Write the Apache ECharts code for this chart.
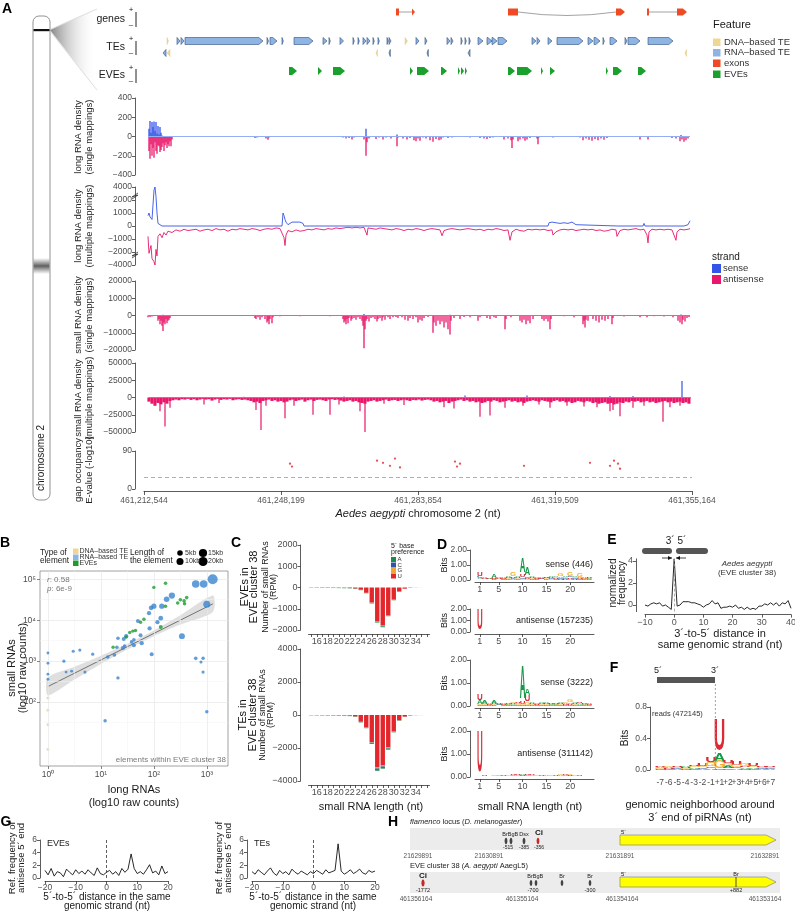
<!DOCTYPE html>
<html>
<head>
<meta charset="utf-8">
<script src="https://cdn.jsdelivr.net/npm/echarts@6.0.0/dist/echarts.min.js"></script>
<style>
html,body{margin:0;padding:0;background:#ffffff;}
#chart{width:795px;height:911px;}
</style>
</head>
<body>
<div id="chart"></div>
<script>
// ======================= DATA =======================
const GENOME_START = 461212544;
const GENOME_END = 461355164;
const WINDOW_UNITS = 548;                       // window positions (1 unit = 260.26 nt)
const UNIT_NT = (GENOME_END - GENOME_START) / WINDOW_UNITS;
const GENOMIC_TICK_STEP = 137;

// Panel A feature tracks: [start, end, kind] in window units
const GENE_EXONS = [[252,255,'box'],[268,271,'arrow'],[364,374,'box'],[472,481,'arrow'],[503,505,'box'],[533,543,'arrow']];
const GENE_INTRONS = [[255,268,0],[374,472,1],[505,533,0]];
const TE_PLUS = [[23,24.5,'DNA'],[33,36,'RNA'],[37,40,'RNA'],[41,119,'RNA'],[123,124.5,'RNA'],[126,133,'RNA'],[138,139,'RNA'],[150,169,'RNA'],[179,183,'RNA'],[185,186,'RNA'],[196,199.5,'RNA'],[209,210,'RNA'],[214,215,'RNA'],[219,222,'RNA'],[223,226,'RNA'],[229,230,'RNA'],[234,235,'RNA'],[243,244,'RNA'],[245,247,'RNA'],[261,263.5,'DNA'],[272,275,'RNA'],[281,283,'RNA'],[303,306,'RNA'],[307,309,'RNA'],[317,318,'RNA'],[321,322,'RNA'],[325,326,'RNA'],[334,339,'RNA'],[343,348,'RNA'],[348,353,'RNA'],[354,363,'RNA'],[388,392,'RNA'],[393,396,'RNA'],[404,408,'RNA'],[413,439,'RNA'],[444,449,'RNA'],[450,456,'RNA'],[459,460,'RNA'],[466,473,'RNA'],[481,483,'RNA'],[484,496,'RNA'],[504,529,'RNA']];
const TE_MINUS = [[19,22,'RNA'],[23,26,'DNA'],[232,233.5,'DNA'],[245,246,'RNA'],[283,284,'RNA'],[324,326,'RNA'],[541,542.5,'DNA']];
const EVE_LOCI = [[145,153],[174,178],[189,201],[266,269],[273,285],[297,303],[314,316],[317,320],[321,323],[364,371],[373,388],[397,399],[406,411],[462,464],[469,478],[494,502]];

// long RNA density, single mappings: [position, density]
const T1_SENSE = [[5,80],[6,160],[7,40],[8,150],[9,100],[10,155],[11,60],[12,150],[13,30],[14,110],[15,20],[16,100],[17,40],[18,10],[26,5],[222,80],[253,20],[537,15]];
const T1_ANTI = [[5,-150],[6,-230],[7,-80],[8,-200],[9,-120],[10,-220],[11,-60],[12,-150],[13,-180],[14,-90],[15,-100],[16,-160],[17,-140],[18,-110],[19,-70],[20,-150],[21,-90],[22,-60],[23,-120],[24,-80],[25,-100],[26,-50],[27,-100],[28,-30],[111,-15],[113,-10],[122,-20],[124,-35],[125,-10],[199,-10],[202,-20],[205,-15],[208,-30],[210,-10],[213,-5],[220,-30],[222,-200],[223,-60],[225,-20],[228,-5],[232,-25],[235,-10],[239,-30],[242,-10],[247,-20],[250,-5],[253,-100],[254,-10],[259,-20],[263,-30],[266,-15],[270,-40],[272,-50],[274,-20],[276,-45],[279,-10],[282,-20],[286,-40],[289,-55],[292,-25],[295,-40],[297,-30],[299,-10],[304,-15],[308,-10],[314,-5],[326,-10],[336,-15],[340,-20],[343,-25],[346,-15],[349,-10],[360,-30],[364,-20],[367,-40],[368,-120],[369,-30],[374,-50],[376,-30],[379,-20],[381,-45],[383,-30],[386,-15],[393,-20],[394,-80],[395,-10],[402,-5],[409,-10],[436,-10],[439,-40],[442,-20],[445,-35],[448,-45],[451,-25],[454,-40],[457,-20],[460,-35],[463,-15],[467,-5],[496,-30],[504,-30],[528,-15],[532,-20],[536,-50],[538,-30],[540,-55],[542,-40],[544,-20]];

// long RNA density, multiple mappings
const T2_SENSE = [[4,800],[5,1000],[6,700],[7,600],[8,500],[9,600],[10,3500],[11,4000],[12,2500],[13,1000],[14,200],[16,100],[18,0],[138,0],[139,1000],[140,800],[141,500],[142,300],[144,100],[146,200],[148,300],[150,250],[152,300],[154,350],[156,300],[158,400],[159,200],[160,0],[221,0],[222,100],[223,0],[306,0],[307,100],[308,0],[404,0],[405,250],[408,300],[412,250],[416,200],[420,250],[424,200],[428,300],[430,350],[432,100],[434,0],[474,0],[475,100],[476,0],[499,0],[500,200],[501,0],[540,0],[544,100],[546,400]];
const T2_ANTI = [[4,-800],[5,-2200],[6,-2500],[7,-1500],[8,-3000],[10,-3500],[11,-4000],[12,-1800],[13,-2600],[14,-800],[16,-600],[18,-900],[20,-500],[22,-700],[24,-400],[28,-500],[32,-300],[36,-400],[40,-250],[44,-350],[48,-300],[52,-250],[56,-400],[60,-300],[64,-250],[68,-350],[72,-200],[76,-300],[80,-250],[84,-400],[88,-250],[92,-300],[96,-200],[100,-250],[104,-300],[108,-200],[112,-250],[116,-350],[120,-250],[124,-200],[128,-250],[132,-150],[136,-200],[138,-250],[140,-900],[141,-1500],[142,-700],[144,-350],[148,-450],[152,-300],[156,-400],[160,-350],[164,-250],[168,-300],[172,-200],[176,-250],[180,-300],[184,-200],[188,-250],[192,-150],[196,-200],[200,-150],[204,-100],[208,-150],[212,-100],[216,-150],[220,-100],[222,-500],[223,-700],[224,-150],[228,-200],[232,-250],[236,-150],[240,-200],[244,-250],[248,-300],[252,-200],[256,-250],[260,-350],[264,-250],[268,-300],[272,-200],[276,-250],[280,-350],[284,-250],[288,-200],[292,-250],[296,-300],[298,-750],[300,-350],[304,-250],[308,-200],[312,-250],[316,-300],[320,-250],[324,-200],[328,-250],[332,-300],[336,-250],[340,-350],[344,-250],[348,-300],[352,-200],[356,-250],[360,-350],[364,-300],[366,-1100],[368,-450],[372,-250],[376,-350],[380,-400],[384,-250],[388,-300],[392,-250],[396,-300],[400,-250],[404,-350],[408,-300],[409,-700],[412,-450],[416,-300],[420,-250],[424,-300],[428,-250],[432,-350],[436,-300],[440,-250],[444,-300],[448,-250],[452,-350],[456,-300],[460,-400],[464,-350],[468,-250],[472,-300],[473,-800],[476,-350],[480,-250],[484,-300],[488,-250],[492,-200],[496,-300],[500,-250],[503,-700],[504,-1300],[505,-450],[508,-250],[512,-300],[516,-250],[520,-300],[524,-250],[528,-300],[532,-1100],[533,-450],[536,-250],[540,-300],[544,-250],[546,-200]];
const T2_TICK_LABELS = ['\u22124000','\u22122000','\u22121000','0','1000','2000','4000'];

// small RNA density, single mappings
const T3_SENSE = [[19,500],[220,800],[306,400],[537,600]];
const T3_ANTI = [[4,-1000],[6,-800],[8,-600],[14,-3000],[15,-2000],[16,-5000],[17,-3000],[18,-6000],[19,-9000],[20,-4000],[21,-5000],[22,-2000],[23,-4500],[24,-3000],[25,-2500],[26,-1500],[40,-300],[60,-200],[80,-300],[111,-1500],[112,-2000],[114,-1000],[116,-2500],[118,-1000],[121,-2000],[123,-4000],[124,-3000],[125,-5000],[126,-2000],[128,-4500],[129,-1000],[136,-500],[146,-300],[156,-400],[176,-300],[186,-500],[199,-2000],[200,-4000],[201,-3000],[202,-5000],[203,-2000],[204,-4500],[205,-1500],[207,-3000],[208,-2000],[210,-1500],[212,-2500],[214,-1000],[216,-2000],[218,-3000],[219,-6000],[220,-19000],[221,-8000],[222,-3000],[223,-2000],[225,-3500],[227,-1500],[229,-1000],[231,-2000],[233,-3500],[234,-2000],[236,-1500],[238,-3000],[239,-1000],[241,-2500],[244,-1000],[246,-2000],[249,-1000],[252,-800],[254,-1500],[258,-1000],[261,-2500],[264,-3000],[266,-1500],[269,-2000],[272,-1000],[274,-4000],[276,-2500],[278,-3000],[280,-1500],[284,-800],[289,-10000],[290,-4000],[292,-6000],[294,-3000],[296,-5000],[298,-3500],[300,-7000],[302,-4000],[304,-8000],[306,-11000],[307,-3000],[310,-1500],[316,-2000],[320,-800],[326,-1000],[334,-3000],[336,-1000],[343,-1500],[346,-2000],[350,-1000],[352,-1500],[361,-8000],[362,-2000],[367,-1000],[376,-3000],[378,-4000],[380,-2500],[382,-5000],[384,-3000],[386,-4500],[389,-2000],[398,-2000],[400,-3000],[402,-2000],[404,-3500],[406,-8000],[407,-2000],[420,-500],[430,-1000],[439,-5000],[440,-3000],[441,-7000],[442,-2500],[444,-3000],[449,-2000],[452,-3000],[455,-4000],[458,-2500],[461,-3000],[464,-2000],[468,-5000],[469,-1500],[480,-600],[496,-1000],[503,-1000],[510,-500],[520,-600],[529,-1000],[534,-3000],[536,-4000],[538,-5000],[539,-2500],[541,-3500],[543,-1500],[545,-800]];

// small RNA density, multiple mappings (background every 3 positions from position 4, plus peaks)
const T4_BASE_START = 4, T4_BASE_STEP = 3;
const T4_ANTI_BASE = [-6000,-9000,-12000,-8000,-10000,-7000,-9000,-5000,-4000,-3000,-4000,-2500,-3000,-2000,-3500,-2500,-4000,-3000,-2000,-3000,-2500,-4500,-3000,-2000,-3500,-2500,-3000,-2000,-4000,-3000,-2500,-3500,-3000,-4000,-5000,-7000,-6000,-8000,-5000,-4000,-3000,-5000,-4000,-6000,-5000,-7000,-6000,-4000,-3000,-5000,-4000,-3000,-6000,-4000,-3000,-5000,-3500,-3000,-4000,-5000,-3000,-2500,-3500,-3000,-4500,-6000,-5000,-4000,-6000,-5000,-7000,-8000,-9000,-6000,-5000,-4000,-6000,-5000,-4000,-3000,-5000,-4000,-3500,-5000,-4000,-3000,-4000,-5000,-3500,-4000,-3000,-4500,-3500,-3000,-4000,-6000,-5000,-7000,-6000,-5000,-8000,-6000,-5000,-4000,-3000,-5000,-4000,-6000,-5000,-7000,-6000,-8000,-7000,-5000,-6000,-4000,-5000,-7000,-6000,-5000,-4000,-6000,-5000,-7000,-6000,-8000,-6000,-5000,-4000,-5000,-6000,-4000,-5000,-6000,-7000,-5000,-4000,-6000,-5000,-7000,-6000,-8000,-7000,-5000,-6000,-7000,-5000,-6000,-8000,-7000,-9000,-8000,-7000,-9000,-8000,-10000,-9000,-7000,-8000,-6000,-7000,-5000,-6000,-5000,-7000,-6000,-5000,-7000,-6000,-8000,-7000,-6000,-5000,-7000,-6000,-8000,-7000,-6000,-8000,-7000,-9000];
const T4_ANTI_PEAKS = [[16,-20000],[21,-42000],[26,-15000],[60,-10000],[75,-8000],[112,-18000],[117,-47000],[122,-12000],[141,-30000],[150,-12000],[169,-25000],[186,-25000],[195,-10000],[216,-20000],[221,-50000],[240,-9000],[260,-11000],[300,-14000],[310,-16000],[336,-28000],[346,-26000],[361,-15000],[379,-12000],[395,-10000],[406,-15000],[423,-12000],[440,-13000],[453,-14000],[466,-20000],[469,-18000],[476,-27000],[489,-15000],[500,-12000],[519,-35000],[526,-14000],[536,-12000]];
const T4_SENSE = [[100,1000],[200,1500],[321,3000],[383,3000],[466,2000],[489,2000],[538,24000]];

// gap occupancy E-value (-log10)
const GAP_HITS = [[146,60],[148,53],[233,67],[239,62],[246,55],[251,72],[256,51],[311,65],[313,53],[316,60],[380,55],[446,62],[466,55],[470,67],[474,60],[476,48]];
const GAP_THRESHOLD = 27;

// Panel B: [long RNA raw counts, small RNA raw counts, element length (kb)]
const B_DNA_TE = [[1,316,0.4],[1,126,0.4],[1,63,0.3],[1,28,0.3],[1,7,0.3]];
const B_RNA_TE = [[1290,100000,25],[617,75900,12],[871,75900,12],[1000,24500,10],[339,4070,6],[219,39800,7],[174,32400,5],[141,21900,4],[135,11200,3],[100,21900,4],[89,20000,3],[81,14800,2],[117,8900,2],[83,6300,2],[50,9550,1.5],[56,4270,1.5],[59,2750,2],[30,4070,2],[21,3630,1],[27,3470,1.5],[42,3310,1],[38,2950,1],[42,2450,1.5],[28,2340,1],[26,2090,1.5],[20,2190,1],[18,1410,1],[13.5,1260,1],[91,1480,1.5],[7,1480,0.5],[4,1860,0.5],[3,1740,0.5],[2,1000,0.5],[1,1580,0.3],[1,890,0.3],[617,1170,1],[851,1170,0.8],[776,955,0.5],[1,480,0.3],[1,360,0.3],[2.2,540,0.3],[5,540,0.5],[21,390,0.8],[12,35,0.8],[850,540,0.5],[1000,58,0.8],[2.8,570,0.3]];
const B_EVE = [[166,79400,1],[100,63100,0.8],[166,21900,1],[316,31600,1],[372,29500,1],[417,35500,1],[380,25100,1],[282,26300,1],[65,10500,1],[56,8900,0.8],[40,5400,0.8],[45,5600,0.8],[35,5000,0.8],[30,3900,0.8],[135,6800,1.5],[17,2190,0.8]];
const B_FIT_LONG = [1, 1300], B_FIT_SMALL = [240, 25000];
const B_BAND_LONG = [1, 3, 10, 30, 100, 300, 1300];
const B_BAND_LO = [145, 339, 851, 1862, 4074, 7586, 15849];
const B_BAND_HI = [398, 708, 1349, 2570, 5623, 12589, 39811];
const B_SIZE_LEGEND = [5, 10, 15, 20];

// Panel C: small RNA length and RPM by 5' base
const C_LENGTHS = [15,16,17,18,19,20,21,22,23,24,25,26,27,28,29,30,31,32,33,34,35,36];
const C_EVE_U = [-4,-6,-6,-7,-8,-10,-14,-25,-50,-107,-250,-710,-1585,-1796,-1295,-572,-190,-56,-14,-5,-2,0];
const C_EVE_G = [-3,-4,-4,-4,-5,-5,-5,-5,-5,-5,-6,-12,-18,-20,-15,-8,-3,-1,0,0,0,0];
const C_EVE_C = [-3,-3,-4,-4,-4,-4,-4,-4,-4,-4,-4,-8,-12,-14,-10,-5,-2,-1,0,0,0,0];
const C_EVE_A = [-6,-7,-8,-8,-9,-10,-10,-10,-10,-10,-12,-20,-35,-40,-30,-15,-5,-2,-1,0,0,0];
const C_TE_U = [-6,-8,-9,-10,-12,-15,-20,-37,-91,-412,-745,-1640,-3185,-3065,-1970,-980,-323,-100,-26,-9,-4,0];
const C_TE_G = [-4,-5,-6,-6,-7,-8,-10,-10,-10,-10,-15,-30,-50,-50,-35,-18,-7,-3,-1,0,0,0];
const C_TE_C = [-3,-4,-4,-5,-5,-6,-6,-6,-6,-8,-10,-20,-35,-35,-25,-12,-5,-2,-1,0,0,0];
const C_TE_A = [-8,-10,-12,-12,-14,-15,-15,-15,-15,-20,-30,-60,-110,-100,-70,-40,-15,-5,-2,-1,0,0];

// Panel D: sequence logos, bits per position 1..24 as [A, C, G, U]
const D_POSITIONS = [1,2,3,4,5,6,7,8,9,10,11,12,13,14,15,16,17,18,19,20,21,22,23,24];
const D_EVE_SENSE = [[0.05,0.18,0.03,0.22],[0.07,0.03,0.03,0.05],[0.05,0.03,0.02,0.04],[0.22,0.04,0.04,0.05],[0.06,0.03,0.03,0.05],[0.08,0.04,0.05,0.06],[0.1,0.05,0.08,0.08],[0.06,0.08,0.3,0.12],[0.08,0.05,0.05,0.06],[1.0,0.12,0.08,0.2],[0.5,0.12,0.06,0.08],[0.1,0.05,0.05,0.06],[0.06,0.04,0.04,0.05],[0.05,0.04,0.03,0.04],[0.08,0.05,0.05,0.05],[0.1,0.06,0.05,0.06],[0.08,0.05,0.06,0.05],[0.1,0.08,0.2,0.05],[0.12,0.06,0.08,0.05],[0.08,0.1,0.3,0.08],[0.1,0.06,0.06,0.05],[0.08,0.05,0.22,0.06],[0.06,0.04,0.05,0.04],[0.05,0.04,0.04,0.05]];
const D_EVE_ANTI = [[0.01,0.01,0.01,1.85],[0.01,0.01,0.01,0.02],[0.01,0.01,0.01,0.01],[0.01,0.01,0.01,0.02],[0.02,0.01,0.01,0.01],[0.01,0.01,0.01,0.02],[0.01,0.01,0.02,0.01],[0.02,0.01,0.01,0.02],[0.01,0.01,0.01,0.02],[0.02,0.01,0.01,0.01],[0.01,0.01,0.01,0.02],[0.01,0.01,0.01,0.01],[0.02,0.01,0.01,0.01],[0.01,0.01,0.01,0.02],[0.01,0.01,0.02,0.01],[0.01,0.01,0.01,0.02],[0.02,0.01,0.01,0.01],[0.01,0.01,0.01,0.02],[0.01,0.01,0.02,0.02],[0.02,0.01,0.01,0.02],[0.01,0.01,0.02,0.01],[0.01,0.01,0.01,0.02],[0.02,0.01,0.01,0.01],[0.01,0.01,0.01,0.01]];
const D_TE_SENSE = [[0.15,0.03,0.03,0.28],[0.12,0.03,0.03,0.05],[0.05,0.03,0.03,0.04],[0.1,0.03,0.03,0.05],[0.04,0.03,0.02,0.04],[0.05,0.03,0.03,0.04],[0.04,0.03,0.03,0.05],[0.05,0.04,0.06,0.05],[0.06,0.04,0.04,0.06],[1.45,0.04,0.04,0.1],[0.3,0.05,0.12,0.28],[0.06,0.04,0.04,0.05],[0.05,0.03,0.03,0.04],[0.06,0.04,0.04,0.05],[0.05,0.03,0.04,0.04],[0.04,0.03,0.03,0.04],[0.04,0.03,0.03,0.04],[0.05,0.03,0.04,0.04],[0.05,0.04,0.06,0.04],[0.06,0.05,0.1,0.05],[0.05,0.04,0.04,0.04],[0.04,0.03,0.04,0.04],[0.04,0.03,0.03,0.04],[0.04,0.03,0.03,0.03]];
const D_TE_ANTI = [[0.02,0.01,0.02,1.8],[0.02,0.02,0.02,0.03],[0.02,0.02,0.02,0.02],[0.02,0.02,0.03,0.02],[0.03,0.02,0.02,0.02],[0.02,0.02,0.02,0.03],[0.02,0.02,0.03,0.02],[0.03,0.02,0.03,0.03],[0.03,0.02,0.02,0.04],[0.04,0.02,0.03,0.03],[0.03,0.02,0.03,0.04],[0.03,0.02,0.02,0.03],[0.02,0.02,0.03,0.02],[0.02,0.02,0.02,0.03],[0.03,0.02,0.02,0.02],[0.02,0.02,0.03,0.02],[0.02,0.02,0.02,0.03],[0.03,0.02,0.03,0.02],[0.03,0.02,0.03,0.03],[0.03,0.02,0.04,0.03],[0.02,0.02,0.03,0.02],[0.02,0.02,0.02,0.03],[0.02,0.02,0.02,0.02],[0.02,0.01,0.02,0.02]];
const D_LABELS = ['sense (446)','antisense (157235)','sense (3222)','antisense (311142)'];

// Panel E: 3'-to-5' distance
const E_DIST = [-10,-9,-8,-7,-6,-5,-4,-3,-2,-1,0,1,2,3,4,5,6,7,8,9,10,11,12,13,14,15,16,17,18,19,20,21,22,23,24,25,26,27,28,29,30,31,32,33,34,35,36,37,38,39,40];
const E_FREQ = [0.0,-0.1,0.1,0.2,0.1,0.2,-0.1,0.0,-0.2,-0.4,4.2,-0.1,0.0,0.3,0.3,0.3,0.2,0.2,0.1,0.0,-0.2,0.0,0.1,0.4,0.1,0.2,-0.3,-0.2,-0.2,-0.1,-0.2,0.0,-0.3,-0.2,-0.4,-0.2,-0.4,-0.3,-0.4,-0.1,-0.1,0.1,0.0,0.2,0.0,0.2,-0.1,0.2,0.1,0.4,-0.3];

// Panel F: logo around 3' end, [A, C, G, U]
const F_POSITIONS = ['-7','-6','-5','-4','-3','-2','-1','+1','+2','+3','+4','+5','+6','+7'];
const F_LOGO = [[0.02,0.01,0.01,0.02],[0.02,0.01,0.02,0.01],[0.01,0.01,0.02,0.02],[0.02,0.01,0.01,0.01],[0.02,0.01,0.02,0.02],[0.01,0.02,0.02,0.03],[0.02,0.02,0.05,0.06],[0.1,0.01,0.095,0.4],[0.03,0.02,0.03,0.03],[0.02,0.02,0.02,0.05],[0.02,0.01,0.03,0.02],[0.02,0.01,0.02,0.03],[0.01,0.01,0.02,0.02],[0.01,0.01,0.01,0.02]];

// Panel G: 5'-to-5' distance
const G_DIST = [-20,-19,-18,-17,-16,-15,-14,-13,-12,-11,-10,-9,-8,-7,-6,-5,-4,-3,-2,-1,0,1,2,3,4,5,6,7,8,9,10,11,12,13,14,15,16,17,18,19,20];
const G_EVE = [1.2,0.5,1.5,0.3,1.0,0.8,0.2,1.4,0.9,0.5,1.3,0.7,1.1,0.6,1.3,0.8,0.4,1.6,0.7,0.5,0.9,1.2,0.6,1.0,0.4,1.5,0.9,1.4,3.8,1.5,0.7,1.0,0.6,1.3,2.1,0.8,1.1,0.5,1.9,0.7,1.0];
const G_TE = [1.0,0.6,1.3,0.9,0.5,1.1,1.6,0.8,0.4,1.2,0.7,1.0,0.5,1.4,0.9,0.6,1.1,0.8,0.5,1.0,0.7,1.2,0.9,0.6,1.3,0.8,1.0,1.2,5.4,1.1,0.6,0.9,1.3,0.7,1.0,1.4,0.8,0.6,1.2,0.9,1.1];

// ======================= STYLE / HELPERS =======================
const FONT = '"Liberation Sans", Arial, Helvetica, sans-serif';
const SENSE_C = '#3454E8', ANTI_C = '#E8176A';
const LETTERS = ['A','C','G','U'];
const LETTER_COLORS = ['#16994A','#2A5BA6','#F5AE2C','#DB2B36'];
const BASE_COLORS = {A:'#1C8B45', C:'#2D55A6', G:'#F2A534', U:'#E3262B'};
const MINUS = '\u2212';
const fmtMinus = v => (v < 0 ? MINUS : '') + Math.abs(v);
const SUP = ['\u2070','\u00B9','\u00B2','\u00B3','\u2074','\u2075'];

function merge(a, b) {
  const o = Object.assign({}, a);
  for (const k in b) {
    const bv = b[k], av = a ? a[k] : undefined;
    if (bv && typeof bv === 'object' && !Array.isArray(bv) && typeof bv !== 'function' && av && typeof av === 'object' && !Array.isArray(av)) o[k] = merge(av, bv);
    else o[k] = bv;
  }
  return o;
}
const AXIS = {
  axisLine: {show: true, onZero: false, lineStyle: {color: '#333', width: 0.8}},
  axisTick: {show: true, length: 3, lineStyle: {color: '#333', width: 0.8}},
  axisLabel: {fontSize: 9, color: '#4d4d4d', fontFamily: FONT, margin: 3},
  splitLine: {show: false}
};
const option = {animation: false, backgroundColor: '#ffffff', textStyle: {fontFamily: FONT}, grid: [], xAxis: [], yAxis: [], series: [], graphic: []};
function addGrid(g) { option.grid.push(Object.assign({containLabel: false, outerBoundsMode: 'none'}, g)); return option.grid.length - 1; }
function addX(a) { option.xAxis.push(a); return option.xAxis.length - 1; }
function addY(a) { option.yAxis.push(a); return option.yAxis.length - 1; }
const G = option.graphic;
function T(x, y, text, o) {
  o = o || {};
  const size = o.size || 10;
  const font = (o.italic ? 'italic ' : '') + (o.bold ? 'bold ' : '') + size + 'px ' + FONT;
  const st = {text: text, font: font, fill: o.color || '#1a1a1a', align: o.align || 'left', verticalAlign: o.valign || 'middle', textAlign: o.align || 'left', textVerticalAlign: o.valign || 'middle'};
  if (o.lineHeight) st.lineHeight = o.lineHeight;
  if (o.rich) st.rich = o.rich;
  G.push({type: 'text', x: x, y: y, rotation: o.rot || 0, z: 50, silent: true, style: st});
}
function R(x, y, w, h, fill, extra) { G.push(Object.assign({type: 'rect', silent: true, z: 5, shape: {x: x, y: y, width: w, height: h, r: (extra && extra.r) || 0}, style: Object.assign({fill: fill}, (extra && extra.style) || {})})); }
function L(x1, y1, x2, y2, stroke, w, dash) { G.push({type: 'line', silent: true, z: 6, shape: {x1: x1, y1: y1, x2: x2, y2: y2}, style: {stroke: stroke, lineWidth: w || 0.8, lineDash: dash || null}}); }
function P(points, fill, stroke, lw) { G.push({type: 'polygon', silent: true, z: 6, shape: {points: points}, style: {fill: fill, stroke: stroke || null, lineWidth: lw || 0}}); }
const ROT = Math.PI / 2;

// ======================= PANEL A : feature tracks =======================
const ROW = {gene: 12, tePlus: 41, teMinus: 53, eve: 71};
const gTr = addGrid({left: 144, top: 0, width: 548, height: 85});
const xTr = addX({gridIndex: gTr, type: 'value', min: 0, max: WINDOW_UNITS, show: false});
const yTr = addY({gridIndex: gTr, type: 'value', min: 0, max: 85, inverse: true, show: false});
const FEATURES = [];
GENE_EXONS.forEach(e => FEATURES.push([e[0], e[1], ROW.gene, 1, e[2] === 'box' ? 'exonBox' : 'exon']));
TE_PLUS.forEach(e => FEATURES.push([e[0], e[1], ROW.tePlus, 1, e[2]]));
TE_MINUS.forEach(e => FEATURES.push([e[0], e[1], ROW.teMinus, -1, e[2]]));
EVE_LOCI.forEach(e => FEATURES.push([e[0], e[1], ROW.eve, 1, 'EVE']));
option.series.push({
  type: 'custom', xAxisIndex: xTr, yAxisIndex: yTr, z: 3,
  data: GENE_INTRONS.map(d => [d[0], d[1], ROW.gene]), encode: {x: [0, 1], y: 2},
  renderItem: function (params, api) {
    const d = GENE_INTRONS[params.dataIndex];
    const a = api.coord([d[0], ROW.gene]), b = api.coord([d[1], ROW.gene]);
    if (d[2]) return {type: 'bezierCurve', shape: {x1: a[0], y1: a[1], x2: b[0], y2: b[1], cpx1: (a[0] + b[0]) / 2, cpy1: a[1] + 7}, style: {stroke: '#8a8a8a', lineWidth: 0.8, fill: 'none'}};
    return {type: 'line', shape: {x1: a[0], y1: a[1], x2: b[0], y2: b[1]}, style: {stroke: '#8a8a8a', lineWidth: 0.8}};
  }
});
option.series.push({
  type: 'custom', xAxisIndex: xTr, yAxisIndex: yTr, z: 4,
  data: FEATURES.map(f => [f[0], f[1], f[2]]), encode: {x: [0, 1], y: 2},
  renderItem: function (params, api) {
    const f = FEATURES[params.dataIndex];
    const a = api.coord([f[0], f[2]]), b = api.coord([f[1], f[2]]);
    const Lx = a[0], Rx = Math.max(b[0], a[0] + 1.3), cy = a[1];
    const kind = f[4];
    const h = kind === 'EVE' ? 8 : 7, hh = h / 2;
    let style;
    if (kind === 'RNA') style = {fill: '#8DB4E2', stroke: '#2E4C7C', lineWidth: 0.6};
    else if (kind === 'DNA') style = {fill: '#EFD791', stroke: '#DCC277', lineWidth: 0.4};
    else if (kind === 'EVE') style = {fill: '#19A02D'};
    else style = {fill: '#EF4A23'};
    if (kind === 'exonBox') return {type: 'rect', shape: {x: Lx, y: cy - hh, width: Rx - Lx, height: h}, style: style};
    const tip = Math.min(h * 0.6, Rx - Lx);
    const pts = f[3] >= 0 ? [[Lx, cy - hh], [Rx - tip, cy - hh], [Rx, cy], [Rx - tip, cy + hh], [Lx, cy + hh]]
                          : [[Rx, cy - hh], [Lx + tip, cy - hh], [Lx, cy], [Lx + tip, cy + hh], [Rx, cy + hh]];
    return {type: 'polygon', shape: {points: pts}, style: style};
  }
});

// ======================= PANEL A : density tracks =======================
function track(top, height, ymin, ymax, interval, fmt) {
  const gi = addGrid({left: 144, top: top, width: 548, height: height});
  const xi = addX({gridIndex: gi, type: 'value', min: 0, max: WINDOW_UNITS, show: false});
  const yi = addY(merge(AXIS, {gridIndex: gi, type: 'value', min: ymin, max: ymax, interval: interval, offset: 9, axisLabel: {formatter: fmt, fontSize: 8.5}}));
  return {gi: gi, xi: xi, yi: yi};
}
function baseline(color) {
  return {silent: true, symbol: ['none', 'none'], label: {show: false}, lineStyle: {color: color, width: 1, type: 'solid'}, data: [[{coord: [4, 0]}, {coord: [546, 0]}]]};
}
function bars(t, data, color, w, extra) {
  option.series.push(Object.assign({type: 'bar', xAxisIndex: t.xi, yAxisIndex: t.yi, data: data, barWidth: w, barGap: '-100%', itemStyle: {color: color}, silent: true}, extra || {}));
}
// track 1
const t1 = track(98, 77, -400, 400, 200, fmtMinus);
bars(t1, T1_ANTI, ANTI_C, 1.3, {markLine: baseline('#93AEF5')});
bars(t1, T1_SENSE, SENSE_C, 1.3);
// track 2 (broken axis: 0..2000 linear, 2000..4000 compressed)
const brk = v => Math.abs(v) <= 2000 ? v / 1000 : Math.sign(v) * (2 + (Math.abs(v) - 2000) / 2000);
const t2 = track(187, 78, -3, 3, 1, v => T2_TICK_LABELS[Math.round(v) + 3]);
option.series.push({type: 'line', xAxisIndex: t2.xi, yAxisIndex: t2.yi, data: T2_ANTI.map(d => [d[0], brk(d[1])]), showSymbol: false, silent: true, lineStyle: {color: ANTI_C, width: 0.9}, z: 2});
option.series.push({type: 'line', xAxisIndex: t2.xi, yAxisIndex: t2.yi, data: T2_SENSE.map(d => [d[0], brk(d[1])]), showSymbol: false, silent: true, lineStyle: {color: SENSE_C, width: 0.9}, z: 3});
// track 3
const t3 = track(281, 69, -20000, 20000, 10000, fmtMinus);
bars(t3, T3_ANTI, ANTI_C, 1.3, {markLine: baseline('#EE5C93')});
bars(t3, T3_SENSE, SENSE_C, 1.3);
// track 4
const t4 = track(363, 69, -50000, 50000, 25000, fmtMinus);
bars(t4, T4_ANTI_BASE.map((v, i) => [T4_BASE_START + i * T4_BASE_STEP, v]), ANTI_C, 3.1, {markLine: baseline('#EE5C93')});
bars(t4, T4_ANTI_PEAKS, ANTI_C, 1.2);
bars(t4, T4_SENSE, SENSE_C, 1.2);
// track 5 (gap occupancy) + genomic axis
const g5 = addGrid({left: 144, top: 451, width: 548, height: 38});
const x5 = addX(merge(AXIS, {gridIndex: g5, type: 'value', min: 0, max: WINDOW_UNITS, interval: GENOMIC_TICK_STEP, offset: 2,
  axisTick: {length: 4}, axisLabel: {fontSize: 8.5, color: '#555', margin: 5, formatter: v => (GENOME_START + Math.round(v * UNIT_NT)).toLocaleString('en-US')}}));
const y5 = addY(merge(AXIS, {gridIndex: g5, type: 'value', min: 0, max: 90, interval: 90, offset: 9, axisLabel: {fontSize: 8.5}}));
option.series.push({type: 'scatter', xAxisIndex: x5, yAxisIndex: y5, data: GAP_HITS, symbolSize: 2.3, itemStyle: {color: '#E3242B'}, silent: true,
  markLine: {silent: true, symbol: ['none', 'none'], label: {show: false}, lineStyle: {color: '#9a9a9a', width: 0.8, type: [4, 3]}, data: [{yAxis: GAP_THRESHOLD}]}});

// ======================= PANEL B =======================
const gB = addGrid({left: 40, top: 571, width: 188, height: 195, show: true, borderColor: '#8c8c8c', borderWidth: 0.8, backgroundColor: '#ffffff'});
const xB = addX(merge(AXIS, {gridIndex: gB, type: 'value', min: -0.15, max: 3.4, axisLine: {show: false},
  axisTick: {customValues: [0, 1, 2, 3], lineStyle: {color: '#666'}}, axisLabel: {customValues: [0, 1, 2, 3], formatter: v => '10' + SUP[v], fontSize: 8.5, margin: 4}}));
const yB = addY(merge(AXIS, {gridIndex: gB, type: 'value', min: 0.44, max: 5.2, axisLine: {show: false},
  axisTick: {customValues: [2, 3, 4, 5], lineStyle: {color: '#666'}}, axisLabel: {customValues: [2, 3, 4, 5], formatter: v => '10' + SUP[v], fontSize: 8.5, margin: 4}}));
const gridLinesB = [];
[0, 1, 2, 3].forEach(v => gridLinesB.push({xAxis: v, lineStyle: {color: '#e6e6e6', width: 0.7, type: 'solid'}}));
[0.5, 1.5, 2.5].forEach(v => gridLinesB.push({xAxis: v, lineStyle: {color: '#f2f2f2', width: 0.5, type: 'solid'}}));
[2, 3, 4, 5].forEach(v => gridLinesB.push({yAxis: v, lineStyle: {color: '#e6e6e6', width: 0.7, type: 'solid'}}));
[1.5, 2.5, 3.5, 4.5].forEach(v => gridLinesB.push({yAxis: v, lineStyle: {color: '#f2f2f2', width: 0.5, type: 'solid'}}));
option.series.push({type: 'scatter', xAxisIndex: xB, yAxisIndex: yB, data: [[0, 3]], symbolSize: 0, silent: true, z: 1,
  markLine: {silent: true, symbol: ['none', 'none'], label: {show: false}, data: gridLinesB}});
option.series.push({type: 'custom', xAxisIndex: xB, yAxisIndex: yB, data: [[0, 3]], z: 2, silent: true,
  renderItem: function (params, api) {
    const up = B_BAND_LONG.map((x, i) => api.coord([Math.log10(x), Math.log10(B_BAND_HI[i])]));
    const lo = B_BAND_LONG.map((x, i) => api.coord([Math.log10(x), Math.log10(B_BAND_LO[i])])).reverse();
    return {type: 'polygon', shape: {points: up.concat(lo), smooth: 0.25}, style: {fill: 'rgba(150,150,150,0.3)'}};
  }});
option.series.push({type: 'line', xAxisIndex: xB, yAxisIndex: yB, z: 3, silent: true, showSymbol: false,
  data: B_FIT_LONG.map((x, i) => [Math.log10(x), Math.log10(B_FIT_SMALL[i])]), lineStyle: {color: '#666', width: 0.9}});
const bSize = v => 2 + 1.6 * Math.sqrt(v[2]);
const toLog = arr => arr.map(d => [Math.log10(d[0]), Math.log10(d[1]), d[2]]);
option.series.push({type: 'scatter', xAxisIndex: xB, yAxisIndex: yB, z: 4, silent: true, data: toLog(B_DNA_TE), symbolSize: bSize, itemStyle: {color: '#EAD38C'}});
option.series.push({type: 'scatter', xAxisIndex: xB, yAxisIndex: yB, z: 5, silent: true, data: toLog(B_RNA_TE), symbolSize: bSize, itemStyle: {color: '#3A85D0'}});
option.series.push({type: 'scatter', xAxisIndex: xB, yAxisIndex: yB, z: 6, silent: true, data: toLog(B_EVE), symbolSize: bSize, itemStyle: {color: '#1C9C2E'}});

// ======================= PANEL C =======================
function cPanel(top, height, ymin, ymax, interval, series4, stack) {
  const gi = addGrid({left: 308.5, top: top, width: 121, height: height});
  const xi = addX(merge(AXIS, {gridIndex: gi, type: 'category', data: C_LENGTHS, offset: 4, boundaryGap: true,
    axisTick: {interval: 0, alignWithLabel: true}, axisLabel: {interval: (i, v) => (+v) % 2 === 0 && (+v) <= 34, fontSize: 9, margin: 3}}));
  const yi = addY(merge(AXIS, {gridIndex: gi, type: 'value', min: ymin, max: ymax, interval: interval, offset: 8, axisLabel: {formatter: fmtMinus}}));
  [['U', series4[0]], ['G', series4[1]], ['C', series4[2]], ['A', series4[3]]].forEach(s => {
    option.series.push({type: 'bar', xAxisIndex: xi, yAxisIndex: yi, stack: stack, data: s[1], barWidth: 4.4, silent: true, itemStyle: {color: BASE_COLORS[s[0]]}});
  });
}
cPanel(545, 85, -2000, 2000, 1000, [C_EVE_U, C_EVE_G, C_EVE_C, C_EVE_A], 'cEve');
cPanel(649, 132, -4000, 4000, 2000, [C_TE_U, C_TE_G, C_TE_C, C_TE_A], 'cTe');

// ======================= PANEL D & F : sequence logos =======================
function logoItems(matrix, positions) {
  const out = [];
  matrix.forEach((h, i) => {
    const order = [0, 1, 2, 3].sort((a, b) => h[a] - h[b]);
    let base = 0;
    order.forEach(k => { out.push([positions[i], base, base + h[k], k]); base += h[k]; });
  });
  return out;
}
function letterRenderer(widthFactor) {
  return function (params, api) {
    const x = api.value(0), y0 = api.value(1), y1 = api.value(2), k = api.value(3);
    const p0 = api.coord([x, y0]), p1 = api.coord([x, y1]);
    const h = p0[1] - p1[1];
    if (h < 0.35) return null;
    const w = api.size([1, 0])[0] * widthFactor;
    return {type: 'text', x: p0[0], y: (p0[1] + p1[1]) / 2, scaleX: w / 7.2, scaleY: h / 7.2, silent: true,
      style: {text: LETTERS[k], font: 'bold 10px ' + FONT, fill: LETTER_COLORS[k], align: 'center', verticalAlign: 'middle', textAlign: 'center', textVerticalAlign: 'middle'}};
  };
}
const D_PANELS = [[550, 30, D_EVE_SENSE], [609, 23, D_EVE_ANTI], [660, 46, D_TE_SENSE], [731, 46, D_TE_ANTI]];
D_PANELS.forEach((p, idx) => {
  const gi = addGrid({left: 475, top: p[0], width: 119, height: p[1]});
  const xi = addX(merge(AXIS, {gridIndex: gi, type: 'value', min: 0, max: 25, offset: 2,
    axisTick: {customValues: [1, 5, 10, 15, 20]}, axisLabel: {customValues: [1, 5, 10, 15, 20], fontSize: 9}}));
  const yi = addY(merge(AXIS, {gridIndex: gi, type: 'value', min: 0, max: 2, interval: 1, offset: 5, axisLabel: {formatter: v => v.toFixed(2), fontSize: 8.5}}));
  option.series.push({type: 'custom', xAxisIndex: xi, yAxisIndex: yi, data: logoItems(p[2], D_POSITIONS), encode: {x: 0, y: [1, 2]}, renderItem: letterRenderer(1.2), silent: true});
  T(593, p[0] + p[1] * 0.5, D_LABELS[idx], {size: 9, align: 'right', color: '#222'});
  T(445, p[0] + p[1] * 0.5, 'Bits', {size: 9, align: 'center', rot: ROT});
});
const gF = addGrid({left: 656, top: 707, width: 118.5, height: 63});
const xF = addX(merge(AXIS, {gridIndex: gF, type: 'category', data: F_POSITIONS, axisLine: {show: false}, axisTick: {show: false}, axisLabel: {fontSize: 8.5, margin: 8, interval: 0}}));
const yF = addY(merge(AXIS, {gridIndex: gF, type: 'value', min: 0, max: 0.8, interval: 0.4, offset: 6, axisLabel: {formatter: v => v.toFixed(1), fontSize: 8.5}}));
option.series.push({type: 'custom', xAxisIndex: xF, yAxisIndex: yF, data: logoItems(F_LOGO, F_POSITIONS.map((_, i) => i)), encode: {x: 0, y: [1, 2]}, renderItem: letterRenderer(1.35), silent: true});

// ======================= PANEL E =======================
const gE = addGrid({left: 645, top: 558.8, width: 146, height: 52.8});
const xE = addX(merge(AXIS, {gridIndex: gE, type: 'value', min: -10, max: 40, interval: 10, offset: 3, axisLabel: {formatter: fmtMinus, fontSize: 9, color: '#555'}}));
const yE = addY(merge(AXIS, {gridIndex: gE, type: 'value', min: -0.6, max: 4.2, offset: 9, axisTick: {customValues: [0, 2, 4]}, axisLabel: {customValues: [0, 2, 4], fontSize: 9, color: '#555'}}));
option.series.push({type: 'line', xAxisIndex: xE, yAxisIndex: yE, data: E_DIST.map((d, i) => [d, E_FREQ[i]]), showSymbol: false, silent: true, lineStyle: {color: '#111', width: 0.9},
  markLine: {silent: true, symbol: ['none', 'none'], label: {show: false}, lineStyle: {color: '#999', width: 0.8, type: [3, 2]}, data: [{xAxis: 0}]}});

// ======================= PANEL G =======================
function gPanel(left, values) {
  const gi = addGrid({left: left, top: 840, width: 123, height: 38});
  const xi = addX(merge(AXIS, {gridIndex: gi, type: 'value', min: -20, max: 20, interval: 10, offset: 3, axisLabel: {formatter: fmtMinus, fontSize: 8.5, margin: 2}}));
  const yi = addY(merge(AXIS, {gridIndex: gi, type: 'value', min: 0, max: 6, interval: 2, offset: 5, axisLabel: {fontSize: 8.5}}));
  option.series.push({type: 'line', xAxisIndex: xi, yAxisIndex: yi, data: G_DIST.map((d, i) => [d, values[i]]), showSymbol: false, silent: true, lineStyle: {color: '#111', width: 0.9},
    markLine: {silent: true, symbol: ['none', 'none'], label: {show: false}, lineStyle: {color: '#333', width: 0.8, type: [3, 2]}, data: [{xAxis: 0}]}});
}
gPanel(45, G_EVE);
gPanel(252, G_TE);

// ======================= GRAPHICS: labels, legends, schematics =======================
// panel letters
[['A', 7, 9], ['B', 5, 543], ['C', 236, 543], ['D', 442, 545], ['E', 612, 540], ['F', 614, 668], ['G', 6, 822], ['H', 393, 822]]
  .forEach(l => T(l[1], l[2], l[0], {size: 14, bold: true, align: 'center', color: '#000'}));

// ideogram
G.push({type: 'rect', silent: true, z: 4, shape: {x: 33, y: 16, width: 17, height: 484, r: 6}, style: {fill: '#fff', stroke: '#777', lineWidth: 0.8}});
R(33.5, 29, 16, 2.2, '#111', {});
R(33.5, 258, 16, 16, new echarts.graphic.LinearGradient(0, 0, 0, 1, [{offset: 0, color: 'rgba(110,110,110,0)'}, {offset: 0.5, color: '#5e5e5e'}, {offset: 1, color: 'rgba(110,110,110,0)'}]), {});
P([[50, 30], [97, 9], [97, 90]], new echarts.graphic.LinearGradient(0, 0, 1, 0, [{offset: 0, color: 'rgba(120,120,120,0.9)'}, {offset: 1, color: 'rgba(255,255,255,0)'}]));
L(50, 29.5, 97, 9, '#c8c8c8', 0.6);
L(50, 31, 97, 90, '#c8c8c8', 0.6);
T(41.5, 458, 'chromosome 2', {size: 10, align: 'center', rot: ROT, color: '#222'});

// track labels
[['genes', 19, 10, 25, 12, 27], ['TEs', 47, 39, 53, 41, 55], ['EVEs', 75, 68, 81, 69, 83]].forEach(r => {
  T(125, r[1], r[0], {size: 10.5, align: 'right'});
  T(131, r[2], '+', {size: 8, align: 'center'});
  T(131, r[3], '\u2013', {size: 8, align: 'center'});
  L(136, r[4], 136, r[5], '#222', 1);
});
// feature legend
T(713, 25, 'Feature', {size: 11});
[['DNA\u2013based TE', '#EFD791', 42], ['RNA\u2013based TE', '#8DB4E2', 52.5], ['exons', '#EF4A23', 63], ['EVEs', '#19A02D', 74]].forEach(e => {
  R(713, e[2] - 3.5, 7.5, 7.5, e[1], {});
  T(724, e[2], e[0], {size: 9.5, color: '#333'});
});
// strand legend
T(712, 257, 'strand', {size: 10});
R(712, 264, 9, 9, SENSE_C, {});
R(712, 275, 9, 9, ANTI_C, {});
T(723, 268.5, 'sense', {size: 9.5, color: '#333'});
T(723, 279.5, 'antisense', {size: 9.5, color: '#333'});
// track y titles
[['long RNA density\n(single mappings)', 137], ['long RNA density\n(multiple mappings)', 226], ['small RNA density\n(single mappings)', 315], ['small RNA density\n(multiple mappings)', 398], ['gap occupancy\nE-value (-log10)', 470]]
  .forEach(t => T(84, t[1], t[0], {size: 9.5, align: 'center', rot: ROT, lineHeight: 10.5, color: '#222'}));
// broken axis marks on track 2
G.push({type: 'polyline', silent: true, z: 8, shape: {points: [[132, 199], [138, 195], [132, 197], [138, 193]]}, style: {stroke: '#333', lineWidth: 0.8, fill: null}});
G.push({type: 'polyline', silent: true, z: 8, shape: {points: [[132, 258], [138, 254], [132, 256], [138, 252]]}, style: {stroke: '#333', lineWidth: 0.8, fill: null}});
// genomic axis title
T(418, 514, '{i|Aedes aegypti} chromosome 2 (nt)', {size: 11, align: 'center', rich: {i: {font: 'italic 11px ' + FONT, fill: '#1a1a1a'}}});

// Panel B texts and legend
T(40, 553, 'Type of', {size: 8.2});
T(40, 561, 'element', {size: 8.2});
R(73, 548.5, 5.5, 5.5, '#EFD791', {}); R(73, 554.5, 5.5, 5.5, '#8DB4E2', {}); R(73, 560.5, 5.5, 5.5, '#1C9C2E', {});
T(79.5, 551.5, 'DNA\u2013based TE', {size: 7, color: '#333'});
T(79.5, 557.5, 'RNA\u2013based TE', {size: 7, color: '#333'});
T(79.5, 563.5, 'EVEs', {size: 7, color: '#333'});
T(130, 553, 'Length of', {size: 8.2});
T(130, 561, 'the element', {size: 8.2});
[[180, 553, B_SIZE_LEGEND[0]], [180, 561.5, B_SIZE_LEGEND[1]], [203, 553, B_SIZE_LEGEND[2]], [203, 561.5, B_SIZE_LEGEND[3]]].forEach(s => {
  const d = 2 + 1.6 * Math.sqrt(s[2]);
  G.push({type: 'circle', silent: true, z: 6, shape: {cx: s[0], cy: s[1], r: d / 2}, style: {fill: '#000'}});
  T(s[0] + 5, s[1], s[2] + 'kb', {size: 7, color: '#333'});
});
T(47, 580, '{i|r}: 0.58', {size: 8, color: '#777', rich: {i: {font: 'italic 8px ' + FONT, fill: '#777'}}});
T(47, 589, '{i|p}: 6e-9', {size: 8, color: '#777', rich: {i: {font: 'italic 8px ' + FONT, fill: '#777'}}});
T(226, 760, 'elements within EVE cluster 38', {size: 8, color: '#7a7a7a', align: 'right'});
T(17, 668, 'small RNAs\n(log10 raw counts)', {size: 11, align: 'center', rot: ROT, lineHeight: 11});
T(134, 790, 'long RNAs', {size: 11, align: 'center'});
T(134, 803, '(log10 raw counts)', {size: 11, align: 'center'});

// Panel C texts and legend
T(249.5, 587, 'EVEs in\nEVE cluster 38', {size: 11, align: 'center', rot: ROT, lineHeight: 9.5, color: '#111'});
T(269.5, 587, 'Number of small RNAs\n(RPM)', {size: 9, align: 'center', rot: ROT, lineHeight: 8});
T(248, 715, 'TEs in\nEVE cluster 38', {size: 11, align: 'center', rot: ROT, lineHeight: 9.5, color: '#111'});
T(266.5, 715, 'Number of small RNAs\n(RPM)', {size: 9, align: 'center', rot: ROT, lineHeight: 8});
T(371, 807, 'small RNA length (nt)', {size: 11, align: 'center'});
T(391, 546, '5\u00B4 base', {size: 7, color: '#222'});
T(391, 552, 'preference', {size: 7, color: '#222'});
['A', 'C', 'G', 'U'].forEach((b, i) => {
  R(391, 557 + i * 5.5, 5, 5, BASE_COLORS[b], {});
  T(397.5, 559.5 + i * 5.5, b, {size: 6, color: '#333'});
});
// Panel D title
T(530, 807, 'small RNA length (nt)', {size: 11, align: 'center'});

// Panel E decorations
R(642, 548, 30, 6, '#555', {r: 3});
R(676, 548, 32, 6, '#555', {r: 3});
T(676, 541, '3\u00B4 5\u00B4', {size: 10, align: 'center'});
L(662, 558, 672, 558, '#111', 0.8); L(686, 558, 676, 558, '#111', 0.8);
P([[672, 558], [668, 556], [668, 560]], '#111'); P([[676, 558], [680, 556], [680, 560]], '#111');
T(747, 564, 'Aedes aegypti', {size: 8, italic: true, align: 'center', color: '#333'});
T(747, 573, '(EVE cluster 38)', {size: 8, align: 'center', color: '#333'});
T(618, 583, 'normalized\nfrequency', {size: 10, align: 'center', rot: ROT, lineHeight: 9});
T(720, 634, '3\u00B4-to-5\u00B4 distance in', {size: 11, align: 'center'});
T(720, 645, 'same genomic strand (nt)', {size: 11, align: 'center'});

// Panel F decorations
R(657, 677, 58, 6, '#555', {});
T(658, 671, '5\u00B4', {size: 9, align: 'center'});
T(715, 671, '3\u00B4', {size: 9, align: 'center'});
L(715.3, 684, 715.3, 772, '#8a8a8a', 0.8, [2, 2]);
T(652, 714, 'reads (472145)', {size: 7.5, color: '#333'});
T(625, 738, 'Bits', {size: 10, align: 'center', rot: ROT});
T(700, 805, 'genomic neighborhood around', {size: 11, align: 'center'});
T(700, 818, '3\u00B4 end of piRNAs (nt)', {size: 11, align: 'center'});

// Panel G texts
T(47, 844, 'EVEs', {size: 9, color: '#222'});
T(254, 844, 'TEs', {size: 9, color: '#222'});
T(17, 858, 'Ref. frequency of\nantisense 5\u00B4 end', {size: 9.5, align: 'center', rot: ROT, lineHeight: 9.5});
T(224, 858, 'Ref. frequency of\nantisense 5\u00B4 end', {size: 9.5, align: 'center', rot: ROT, lineHeight: 9.5});
T(107, 897, '5\u00B4-to-5\u00B4 distance in the same', {size: 10, align: 'center'});
T(107, 906, 'genomic strand (nt)', {size: 10, align: 'center'});
T(313, 897, '5\u00B4-to-5\u00B4 distance in the same', {size: 10, align: 'center'});
T(313, 906, 'genomic strand (nt)', {size: 10, align: 'center'});

// Panel H schematic (promoter motifs)
const RICH_H = {i: {font: 'italic 7.5px ' + FONT, fill: '#222'}, n: {font: '7.5px ' + FONT, fill: '#222'}};
T(410, 822, '{i|flamenco} locus ({i|D. melanogaster})', {size: 7.5, rich: RICH_H});
R(410, 828, 370, 22, '#ececec', {});
P([[620, 835], [766, 835], [776, 840], [766, 845], [620, 845]], '#FFFF00', '#777', 0.6);
T(621, 832, '5\u00B4', {size: 6});
[[506, '#444'], [511, '#444'], [524, '#444'], [538, '#C62828']].forEach(m => G.push({type: 'ellipse', silent: true, z: 7, shape: {cx: m[0], cy: 841, rx: 1.4, ry: 3.2}, style: {fill: m[1]}}));
T(505, 834, 'Br', {size: 5.5, align: 'center'}); T(513, 834, 'BgB', {size: 5.5, align: 'center'}); T(524, 834, 'Dsx', {size: 5.5, align: 'center'});
T(539, 833, 'Ci', {size: 8, bold: true, align: 'center'});
T(508, 848, '-515', {size: 5, align: 'center'}); T(524, 848, '-385', {size: 5, align: 'center'}); T(539, 848, '-356', {size: 5, align: 'center'});
[['21629891', 418], ['21630891', 489], ['21631891', 620], ['21632891', 765]].forEach(a => T(a[1], 856, a[0], {size: 6.5, align: 'center', color: '#555'}));
T(410, 866, '{n|EVE cluster 38 (}{i|A. aegypti}{n| AaegL5)}', {size: 7.5, rich: RICH_H});
R(410, 872, 370, 21, '#ececec', {});
P([[620, 877], [766, 877], [776, 882], [766, 887], [620, 887]], '#FFFF00', '#777', 0.6);
T(621, 874.5, '5\u00B4', {size: 6});
L(736, 877, 736, 887, '#222', 0.8);
T(736, 874.5, 'Br', {size: 5.5, align: 'center'}); T(736, 890, '+882', {size: 5.5, align: 'center'});
G.push({type: 'ellipse', silent: true, z: 7, shape: {cx: 423, cy: 883, rx: 1.6, ry: 3.5}, style: {fill: '#C62828'}});
T(423, 876, 'Ci', {size: 8, bold: true, align: 'center'}); T(423, 890, '-1772', {size: 5.5, align: 'center'});
[[531, '#444'], [536, '#444'], [562, '#444'], [590, '#444']].forEach(m => G.push({type: 'ellipse', silent: true, z: 7, shape: {cx: m[0], cy: 883, rx: 1.3, ry: 3}, style: {fill: m[1]}}));
T(530, 876, 'Br', {size: 5.5, align: 'center'}); T(538, 876, 'BgB', {size: 5.5, align: 'center'});
T(562, 876, 'Br', {size: 5.5, align: 'center'}); T(590, 876, 'Br', {size: 5.5, align: 'center'});
T(533, 890, '-700', {size: 5.5, align: 'center'}); T(590, 890, '-300', {size: 5.5, align: 'center'});
[['461356164', 416], ['461355164', 522], ['461354164', 622], ['461353164', 765]].forEach(a => T(a[1], 899, a[0], {size: 6.5, align: 'center', color: '#555'}));

const chart = echarts.init(document.getElementById('chart'), null, {renderer: 'canvas'});
chart.setOption(option);
</script>
</body>
</html>
